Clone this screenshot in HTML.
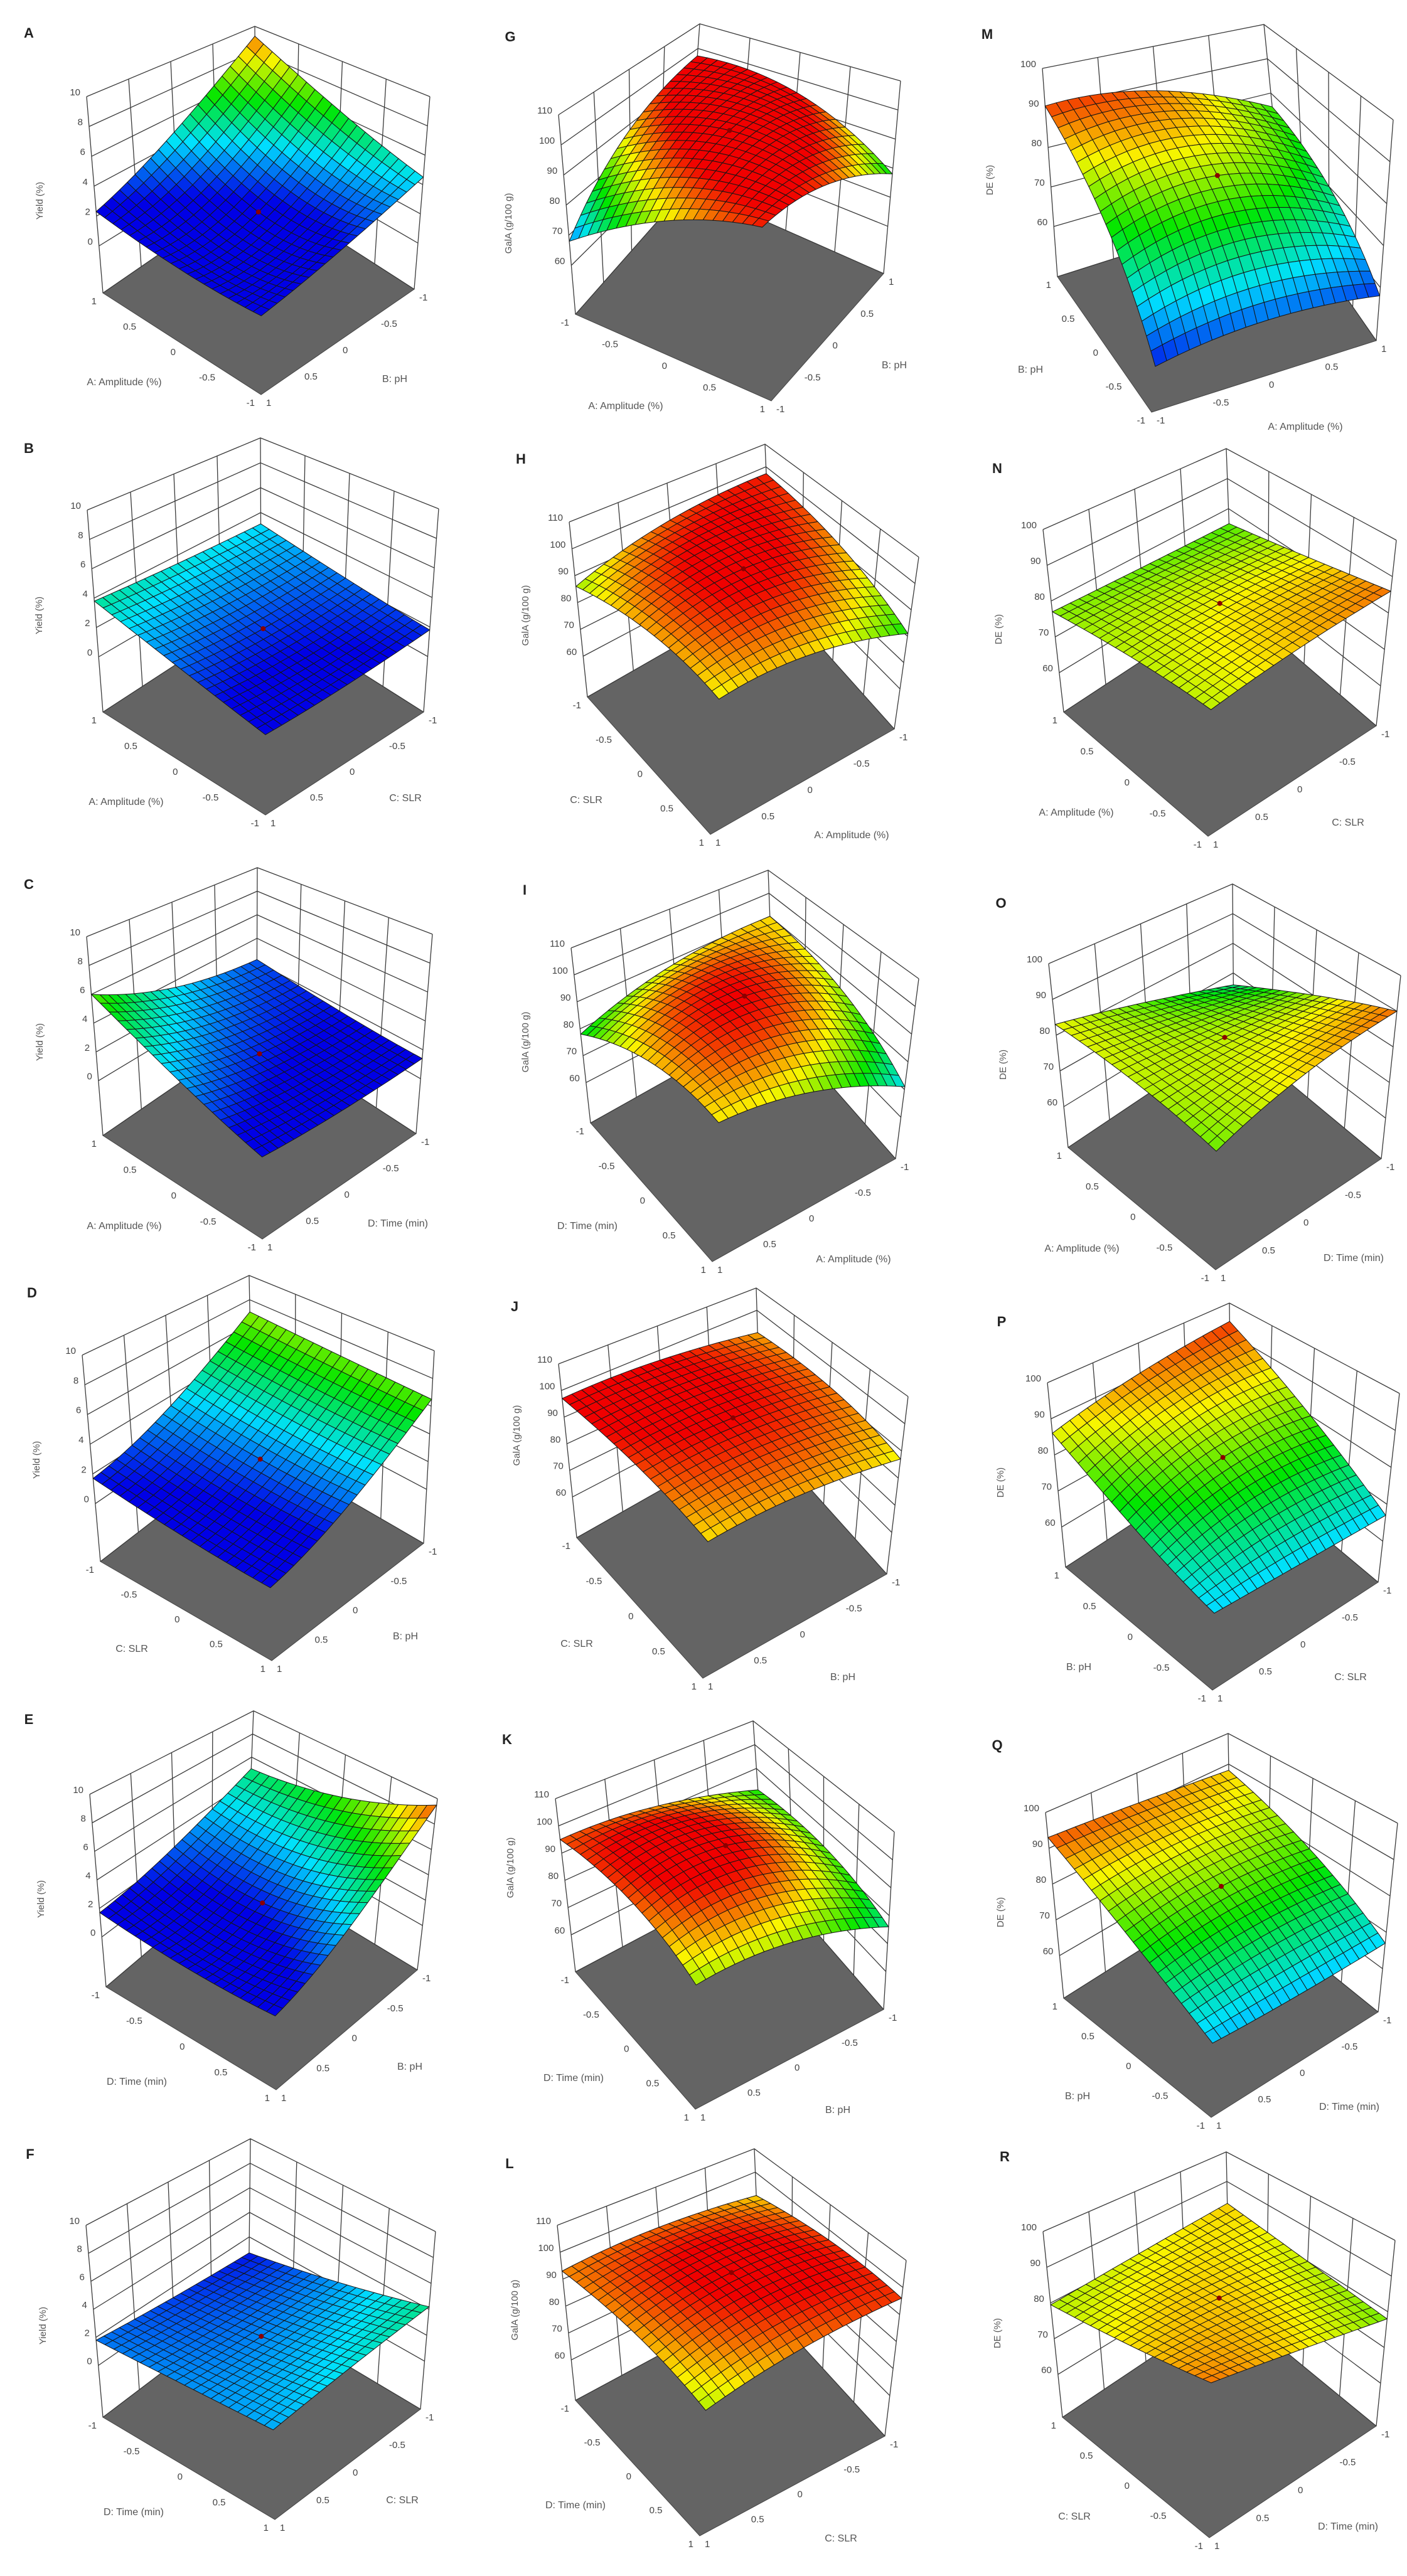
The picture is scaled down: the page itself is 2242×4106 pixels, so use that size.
<!DOCTYPE html>
<html>
<head>
<meta charset="utf-8">
<style>
  html,body{margin:0;padding:0;background:#fff;}
  svg{display:block;}
  text{font-family:"Liberation Sans",sans-serif;}
</style>
</head>
<body>
<svg id="fig" xmlns="http://www.w3.org/2000/svg" width="2242" height="4106" viewBox="0 0 2242 4106">
  <rect x="0" y="0" width="2242" height="4106" fill="#ffffff"/>
</svg>
<script>
// ---------- data ----------
const panelLetters = ['A','B','C','D','E','F','G','H','I','J','K','L','M','N','O','P','Q','R'];
const responseOfPanel = [0,0,0,0,0,0,1,1,1,1,1,1,2,2,2,2,2,2];
const responseTitles = ['Yield (%)','GalA (g/100 g)','DE (%)'];
const yieldTicks = [0,2,4,6,8,10];
const galaTicks = [60,70,80,90,100,110];
const deTicks = [60,70,80,90,100];
const floorTickLabels = ['-1','-0.5','0','0.5','1'];
const leftFactor = ['A: Amplitude (%)','A: Amplitude (%)','A: Amplitude (%)','C: SLR','D: Time (min)','D: Time (min)',
  'A: Amplitude (%)','C: SLR','D: Time (min)','C: SLR','D: Time (min)','D: Time (min)',
  'B: pH','A: Amplitude (%)','A: Amplitude (%)','B: pH','B: pH','C: SLR'];
const rightFactor = ['B: pH','C: SLR','D: Time (min)','B: pH','B: pH','C: SLR',
  'B: pH','A: Amplitude (%)','A: Amplitude (%)','B: pH','B: pH','C: SLR',
  'A: Amplitude (%)','C: SLR','D: Time (min)','C: SLR','D: Time (min)','D: Time (min)'];
const leftDir  = [-1,-1,-1, 1, 1, 1,  1, 1, 1, 1, 1, 1, -1,-1,-1,-1,-1,-1];
const rightDir = [-1,-1,-1,-1,-1,-1,  1,-1,-1,-1,-1,-1,  1,-1,-1,-1,-1,-1];
const zTops   = [10,10,10,10,10,10, 110,110,110,110,110,110, 100,100,100,100,100,100];
const zFloors = [-3.15,-3.76,-3.8,-3.9,-3.5,-3.7, 43.75,44.8,45,44.7,46.4,45, 47.3,49,48.6,48.9,48.1,48];
const colorMins = [2.5,1.5,1.5,1.5,1.8,0.5, 64,64,62,62,64,62, 56,55,50,58,58,62];
const colorMaxs = [10,8,9,10,10,10.5, 95,98,98,96,98,98, 93,90,95,96,96,88];
const surfaceValues = [
  [[9.2,6.3,4.5],[4.8,2.2,2.6],[2.3,1.5,1.4]],
  [[3.1,2.3,1.8],[3.4,1.9,1.2],[3.8,2.2,0.96]],
  [[2.2,1.6,1.4],[3.5,1.8,1.0],[6.0,3.0,1.0]],
  [[7.0,6.7,6.5],[3.3,2.6,2.5],[1.7,0.9,0.5]],
  [[5.0,6.5,9.5],[2.7,2.1,4.0],[1.7,1.2,1.3]],
  [[0.7,2.3,4.2],[1.2,2.0,3.3],[1.8,2.1,2.4]],
  [[97,95,78],[88,99,92],[68,86,94]],
  [[97,92,81],[95,99,90],[86,92,89]],
  [[90,85,71],[88,98,85],[78,90,89]],
  [[90,92,87],[96,96,90],[97,94,88]],
  [[81,83,76],[92,99,86],[95,95,86]],
  [[90,96,96],[94,99,93],[93,92,86]],
  [[76,70,58],[88,80,60],[90.5,75,57]],
  [[75,81,86],[76,81,83],[77,79,79]],
  [[66,80,90],[76,81,85],[83,81,77]],
  [[94,80,67],[91,81,67],[86,74,67]],
  [[88,79,67],[91,81,66],[93,78,66]],
  [[82.6,80,78],[81,82.6,82],[79.5,82,85]]
];

// ---------- layout (pixel geometry, not data) ----------
const panelGeometry = [
 {L:[164,467],F:[416,629],R:[660,461],Lt:[138,154],Bt:[406,42],Rt:[685,154],lab:[46,52],lt:[198,608],rt:[629,603],zt:[63,320]},
 {L:[164,1135],F:[423,1299],R:[675,1135],Lt:[139,813],Bt:[415,698],Rt:[699,811],lab:[46,714],lt:[201,1277],rt:[646,1271],zt:[62,981]},
 {L:[164,1810],F:[418,1975],R:[663,1807],Lt:[138,1493],Bt:[410,1383],Rt:[689,1489],lab:[46,1409],lt:[198,1953],rt:[634,1949],zt:[63,1661]},
 {L:[160,2489],F:[433,2647],R:[675,2460],Lt:[131,2160],Bt:[397,2033],Rt:[692,2153],lab:[51,2060],lt:[210,2627],rt:[646,2607],zt:[58,2327]},
 {L:[169,3167],F:[440,3331],R:[665,3140],Lt:[143,2860],Bt:[404,2727],Rt:[697,2867],lab:[46,2740],lt:[218,3317],rt:[653,3293],zt:[65,3027]},
 {L:[164,3853],F:[438,4016],R:[670,3840],Lt:[137,3547],Bt:[399,3409],Rt:[694,3557],lab:[48,3433],lt:[213,4003],rt:[641,3984],zt:[68,3707]},
 {L:[917,501],F:[1229,639],R:[1408,436],Lt:[890,183],Bt:[1115,38],Rt:[1435,129],lab:[813,58],lt:[997,646],rt:[1425,581],zt:[810,356]},
 {L:[936,1111],F:[1132,1330],R:[1425,1162],Lt:[907,832],Bt:[1219,708],Rt:[1464,888],lab:[830,731],lt:[934,1274],rt:[1357,1330],zt:[837,981]},
 {L:[941,1790],F:[1135,2011],R:[1427,1847],Lt:[910,1511],Bt:[1224,1387],Rt:[1464,1560],lab:[836,1418],lt:[936,1953],rt:[1360,2006],zt:[837,1661]},
 {L:[919,2451],F:[1120,2675],R:[1413,2509],Lt:[890,2174],Bt:[1205,2053],Rt:[1447,2226],lab:[820,2082],lt:[919,2619],rt:[1343,2672],zt:[823,2288]},
 {L:[917,3143],F:[1108,3362],R:[1408,3203],Lt:[885,2867],Bt:[1200,2743],Rt:[1425,2920],lab:[808,2772],lt:[914,3311],rt:[1335,3362],zt:[813,2977]},
 {L:[917,3826],F:[1115,4042],R:[1410,3883],Lt:[888,3547],Bt:[1202,3425],Rt:[1444,3603],lab:[812,3448],lt:[917,3992],rt:[1340,4045],zt:[820,3682]},
 {L:[1685,441],F:[1835,657],R:[2193,543],Lt:[1661,109],Bt:[2014,39],Rt:[2220,191],lab:[1573,54],lt:[1642,588],rt:[2080,679],zt:[1577,287]},
 {L:[1695,1135],F:[1925,1333],R:[2193,1157],Lt:[1662,844],Bt:[1954,715],Rt:[2225,861],lab:[1589,746],lt:[1715,1294],rt:[2148,1310],zt:[1591,1003]},
 {L:[1702,1829],F:[1937,2024],R:[2201,1847],Lt:[1671,1536],Bt:[1964,1409],Rt:[2232,1555],lab:[1595,1439],lt:[1724,1989],rt:[2157,2004],zt:[1598,1697]},
 {L:[1698,2498],F:[1932,2694],R:[2196,2522],Lt:[1669,2204],Bt:[1959,2077],Rt:[2230,2221],lab:[1596,2106],lt:[1719,2656],rt:[2152,2672],zt:[1594,2363]},
 {L:[1695,3185],F:[1930,3375],R:[2196,3207],Lt:[1666,2889],Bt:[1957,2763],Rt:[2227,2906],lab:[1589,2781],lt:[1717,3340],rt:[2150,3357],zt:[1594,3048]},
 {L:[1693,3853],F:[1927,4045],R:[2193,3867],Lt:[1662,3557],Bt:[1954,3430],Rt:[2223,3571],lab:[1601,3437],lt:[1712,4010],rt:[2148,4026],zt:[1589,3719]}
];

const NS = 'http://www.w3.org/2000/svg';
const svg = document.getElementById('fig');
const N = 20;

function colorFor(f){
  f = Math.max(0, Math.min(1, f));
  const stops = [[0,[0,0,230]],[0.25,[0,225,255]],[0.5,[0,230,0]],[0.75,[250,245,0]],[1,[240,0,0]]];
  for (let i=0;i<stops.length-1;i++){
    const a=stops[i], b=stops[i+1];
    if (f<=b[0]){
      const t=(f-a[0])/(b[0]-a[0]);
      const c=a[1].map((v,k)=>Math.round(v+(b[1][k]-v)*t));
      return 'rgb('+c.join(',')+')';
    }
  }
  return 'rgb(240,0,0)';
}
function lag(t){ return [2*(t-0.5)*(t-1), -4*t*(t-1), 2*t*(t-0.5)]; }
function surf(vals,a,b){
  const la=lag(a), lb=lag(b); let s=0;
  for (let i=0;i<3;i++) for (let j=0;j<3;j++) s+=la[i]*lb[j]*vals[i][j];
  return s;
}
function fmt(p){ return p[0].toFixed(1)+','+p[1].toFixed(1); }

function drawPanel(p){
  const g = panelGeometry[p];
  const zT = zTops[p], zF = zFloors[p];
  const Bf = [g.L[0]+g.R[0]-g.F[0], g.L[1]+g.R[1]-g.F[1]];
  const vL = [g.Lt[0]-g.L[0], g.Lt[1]-g.L[1]];
  const vR = [g.Rt[0]-g.R[0], g.Rt[1]-g.R[1]];
  const vB = [g.Bt[0]-Bf[0], g.Bt[1]-Bf[1]];
  function proj(a,b,z){
    const fx = Bf[0] + a*(g.L[0]-Bf[0]) + b*(g.R[0]-Bf[0]);
    const fy = Bf[1] + a*(g.L[1]-Bf[1]) + b*(g.R[1]-Bf[1]);
    const vx = vB[0] + a*(vL[0]-vB[0]) + b*(vR[0]-vB[0]);
    const vy = vB[1] + a*(vL[1]-vB[1]) + b*(vR[1]-vB[1]);
    const h = (z - zF)/(zT - zF);
    return [fx + vx*h, fy + vy*h];
  }
  const grp = document.createElementNS(NS,'g');
  
  
  svg.appendChild(grp);

  const floor = document.createElementNS(NS,'polygon');
  
  
  floor.setAttribute('points',[proj(0,0,zF),proj(1,0,zF),proj(1,1,zF),proj(0,1,zF)].map(fmt).join(' '));
  floor.setAttribute('fill','#646464');
  floor.setAttribute('stroke','#444');
  floor.setAttribute('stroke-width','1');
  grp.appendChild(floor);

  const ticks = [yieldTicks,galaTicks,deTicks][responseOfPanel[p]];
  let d = '';
  const hz = ticks.concat([zT]);
  for (const z of hz){
    d += 'M'+fmt(proj(1,0,z))+'L'+fmt(proj(0,0,z))+'L'+fmt(proj(0,1,z));
  }
  for (let k=0;k<=4;k++){
    const t=k/4;
    d += 'M'+fmt(proj(t,0,zF))+'L'+fmt(proj(t,0,zT));
    d += 'M'+fmt(proj(0,t,zF))+'L'+fmt(proj(0,t,zT));
  }
  d += 'M'+fmt(proj(1,0,zF))+'L'+fmt(proj(0,0,zF))+'L'+fmt(proj(0,1,zF));
  const walls = document.createElementNS(NS,'path');
  
  
  walls.setAttribute('d',d);
  walls.setAttribute('fill','none');
  walls.setAttribute('stroke','#3a3a3a');
  walls.setAttribute('stroke-width','1.3');
  grp.appendChild(walls);

  const vals = surfaceValues[p];
  const cmin = colorMins[p], cmax = colorMaxs[p];
  const cells = [];
  for (let i=0;i<N;i++) for (let j=0;j<N;j++) cells.push([i,j]);
  cells.sort((u,v)=>(u[0]+u[1])-(v[0]+v[1]));
  const sg = document.createElementNS(NS,'g');
  
  
  sg.setAttribute('stroke','#151515');
  sg.setAttribute('stroke-width','1');
  sg.setAttribute('stroke-linejoin','round');
  grp.appendChild(sg);
  for (const [i,j] of cells){
    const a0=i/N, a1=(i+1)/N, b0=j/N, b1=(j+1)/N;
    const pts=[proj(a0,b0,surf(vals,a0,b0)),proj(a1,b0,surf(vals,a1,b0)),proj(a1,b1,surf(vals,a1,b1)),proj(a0,b1,surf(vals,a0,b1))];
    const zc = surf(vals,(a0+a1)/2,(b0+b1)/2);
    const q = document.createElementNS(NS,'polygon');
    
    
    q.setAttribute('points',pts.map(fmt).join(' '));
    q.setAttribute('fill',colorFor((zc-cmin)/(cmax-cmin)));
    sg.appendChild(q);
  }
  const cp = proj(0.5,0.5,surf(vals,0.5,0.5));
  const dot = document.createElementNS(NS,'circle');
  
  
  dot.setAttribute('cx',cp[0].toFixed(1));
  dot.setAttribute('cy',cp[1].toFixed(1));
  dot.setAttribute('r','4');
  dot.setAttribute('fill','#8b0000');
  grp.appendChild(dot);

  for (const z of ticks){
    const pt = proj(1,0,z);
    const t = document.createElementNS(NS,'text');
    
    
    t.setAttribute('x',(pt[0]-10).toFixed(1));
    t.setAttribute('y',(pt[1]-2).toFixed(1));
    t.setAttribute('text-anchor','end');
    t.setAttribute('font-size','15');
    t.setAttribute('fill','#444');
    t.textContent = String(z);
    grp.appendChild(t);
  }
  for (let k=0;k<=4;k++){
    const tt=k/4;
    const pL = proj(1,tt,zF);
    const lbl = leftDir[p]>0 ? floorTickLabels[k] : floorTickLabels[4-k];
    const t1 = document.createElementNS(NS,'text');
    
    
    t1.setAttribute('x',(pL[0]-10).toFixed(1));
    t1.setAttribute('y',(pL[1]+18).toFixed(1));
    t1.setAttribute('text-anchor','end');
    t1.setAttribute('font-size','15');
    t1.setAttribute('fill','#444');
    t1.textContent = lbl;
    grp.appendChild(t1);
    const pR = proj(1-tt,1,zF);
    const lbr = rightDir[p]>0 ? floorTickLabels[k] : floorTickLabels[4-k];
    const t2 = document.createElementNS(NS,'text');
    
    
    t2.setAttribute('x',(pR[0]+8).toFixed(1));
    t2.setAttribute('y',(pR[1]+18).toFixed(1));
    t2.setAttribute('text-anchor','start');
    t2.setAttribute('font-size','15');
    t2.setAttribute('fill','#444');
    t2.textContent = lbr;
    grp.appendChild(t2);
  }
  const lt = document.createElementNS(NS,'text');
  
  
  lt.setAttribute('x',g.lt[0]);
  lt.setAttribute('y',g.lt[1]+6);
  lt.setAttribute('text-anchor','middle');
  lt.setAttribute('font-size','16');
  lt.setAttribute('fill','#555');
  lt.textContent = leftFactor[p];
  grp.appendChild(lt);
  const rt = document.createElementNS(NS,'text');
  
  
  rt.setAttribute('x',g.rt[0]);
  rt.setAttribute('y',g.rt[1]+6);
  rt.setAttribute('text-anchor','middle');
  rt.setAttribute('font-size','16');
  rt.setAttribute('fill','#555');
  rt.textContent = rightFactor[p];
  grp.appendChild(rt);
  const zt = document.createElementNS(NS,'text');
  
  
  zt.setAttribute('x',0);
  zt.setAttribute('y',0);
  zt.setAttribute('text-anchor','middle');
  zt.setAttribute('font-size','15');
  zt.setAttribute('fill','#555');
  zt.setAttribute('transform','translate('+(g.zt[0]+5)+','+g.zt[1]+') rotate(-90)');
  zt.textContent = responseTitles[responseOfPanel[p]];
  grp.appendChild(zt);
  const pl = document.createElementNS(NS,'text');
  
  
  pl.setAttribute('x',g.lab[0]);
  pl.setAttribute('y',g.lab[1]+8);
  pl.setAttribute('text-anchor','middle');
  pl.setAttribute('font-size','22');
  pl.setAttribute('font-weight','bold');
  pl.setAttribute('fill','#222');
  pl.textContent = panelLetters[p];
  grp.appendChild(pl);
}
for (let p=0;p<panelLetters.length;p++) drawPanel(p);
</script>
</body>
</html>
